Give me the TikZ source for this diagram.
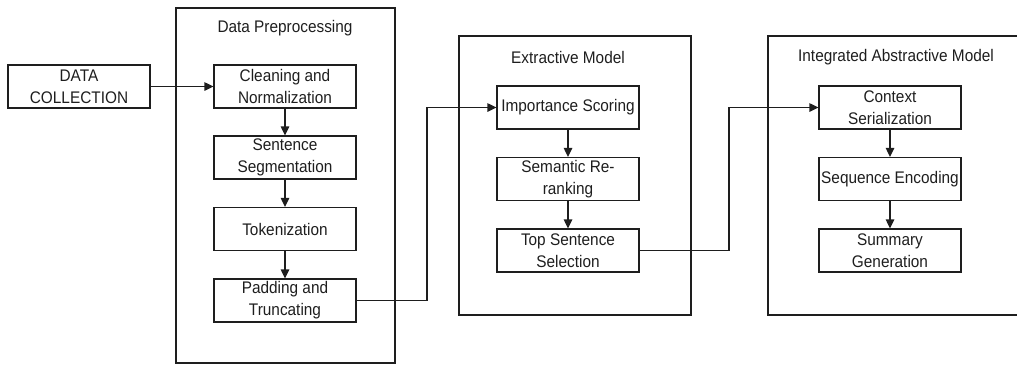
\documentclass[tikz,border=0pt]{standalone}
\usepackage{fontspec}
\setmainfont{Liberation Sans}
\newfontfamily\labelfont[FakeStretch=0.915]{Liberation Sans}
\usetikzlibrary{arrows.meta}
\definecolor{ink}{HTML}{1E1E1E}
\tikzset{
  x=1pt, y=-1pt,
  stepbox/.style={draw=ink, line width=1.2pt, minimum width=142pt, minimum height=43pt,
    inner sep=0pt, align=center, text=ink, font=\labelfont\fontsize{16.8}{22}\selectfont},
  container/.style={draw=ink, line width=1.2pt, inner sep=0pt},
  title/.style={text=ink, font=\labelfont\fontsize{16.8}{18}\selectfont, inner sep=0pt},
  flow/.style={draw=ink, line width=1.2pt, -{Triangle[length=9pt,width=8.5pt]}}
}
\begin{document}
\begin{tikzpicture}
\path[use as bounding box] (0,0) rectangle (1017,365);

% stage containers
\node[container, minimum width=219pt, minimum height=355pt] (prep) at (285.5,185.5) {};
\node[container, minimum width=232pt, minimum height=279pt] (extr) at (575,175.5) {};
\begin{scope}
  \clip (0,0) rectangle (1017,365);
  \node[container, minimum width=272pt, minimum height=279pt] (abst) at (904,175.5) {};
\end{scope}

\node[title] (tprep) at (285,28) {Data Preprocessing};
\node[title] (textr) at (568,57) {Extractive Model};
\node[title] (tabst) at (896,57) {Integrated Abstractive Model};

% input
\node[stepbox] (data) at (79,86.5) {DATA\\COLLECTION};

% preprocessing steps
\node[stepbox] (clean) at (285,86.5) {Cleaning and\\Normalization};
\node[stepbox] (segm)  at (285,157.5) {Sentence\\Segmentation};
\node[stepbox] (tok)   at (285,229) {Tokenization};
\node[stepbox] (pad)   at (285,300.5) {Padding and\\Truncating};

% extractive steps
\node[stepbox] (score) at (568,107.5) {Importance Scoring};
\node[stepbox] (rerank) at (568,179) {Semantic Re-\\ranking};
\node[stepbox] (top)   at (568,250.5) {Top Sentence\\Selection};

% abstractive steps
\node[stepbox] (ctx) at (890,107.5) {Context\\Serialization};
\node[stepbox] (enc) at (890,179) {Sequence Encoding};
\node[stepbox] (gen) at (890,250.5) {Summary\\Generation};

% connectors
\draw[flow] (data) -- (clean);
\draw[flow] (clean) -- (segm);
\draw[flow] (segm) -- (tok);
\draw[flow] (tok) -- (pad);
\draw[flow] (pad.east) -- (427,300.5) |- (score.west);
\draw[flow] (score) -- (rerank);
\draw[flow] (rerank) -- (top);
\draw[flow] (top.east) -- (729,250.5) |- (ctx.west);
\draw[flow] (ctx) -- (enc);
\draw[flow] (enc) -- (gen);
\end{tikzpicture}
\end{document}
